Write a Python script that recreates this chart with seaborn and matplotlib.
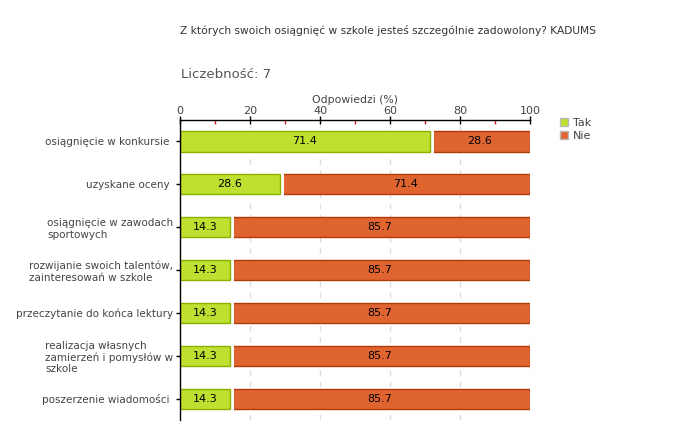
import matplotlib
matplotlib.use("Agg")
import matplotlib.pyplot as plt
import matplotlib.patheffects as pe
from matplotlib.ticker import MultipleLocator
from matplotlib.patches import Patch
import seaborn as sns
import pandas as pd

categories = [
    "osiągnięcie w konkursie ",
    "uzyskane oceny ",
    "osiągnięcie w zawodach\nsportowych",
    "rozwijanie swoich talentów,\nzainteresowań w szkole",
    "przeczytanie do końca lektury",
    "realizacja własnych\nzamierzeń i pomysłów w\nszkole",
    "poszerzenie wiadomości ",
]
tak = [71.4, 28.6, 14.3, 14.3, 14.3, 14.3, 14.3]
nie = [28.6, 71.4, 85.7, 85.7, 85.7, 85.7, 85.7]
series_names = ["Tak", "Nie"]
x_ticks = [0, 20, 40, 60, 80, 100]

title = "Z których swoich osiągnięć w szkole jesteś szczególnie zadowolony? KADUMS"
subtitle = "Liczebność: 7"
x_label = "Odpowiedzi (%)"

df = pd.DataFrame({"cat": categories, "Tak": tak, "Nie": nie})

sns.set_theme(style="white")
plt.rcParams["font.family"] = ["DejaVu Sans"]

green, green_edge = "#bee030", "#8cae00"
orange, orange_edge = "#e06430", "#b03a08"
text_col = "#444444"

fig = plt.figure(figsize=(6.8, 4.4), dpi=100)
ax = fig.add_axes([180 / 680, 1 - 420 / 440, 350 / 680, 300 / 440])

sns.barplot(data=df, y="cat", x="Nie", left=df["Tak"], order=categories, orient="h",
            color=orange, edgecolor=orange_edge, linewidth=1, width=0.47,
            saturation=1, errorbar=None, ax=ax, zorder=1.5)
sns.barplot(data=df, y="cat", x="Tak", order=categories, orient="h",
            color=green, edgecolor=green_edge, linewidth=1, width=0.47,
            saturation=1, errorbar=None, ax=ax, zorder=2)

c_nie, c_tak = ax.containers[0], ax.containers[1]
for p in c_tak:
    p.set_path_effects([pe.Stroke(linewidth=5, foreground="white"), pe.Normal()])

ax.bar_label(c_tak, labels=[f"{v:.1f}" for v in tak], label_type="center",
             fontsize=8, color="black", zorder=5)
ax.bar_label(c_nie, labels=[f"{v:.1f}" for v in nie], label_type="center",
             fontsize=8, color="black", zorder=5)

ax.set_xlim(0, 100)
ax.set_ylim(6.5, -0.5)
ax.xaxis.tick_top()
ax.xaxis.set_label_position("top")
ax.set_xticks(x_ticks)
ax.set_xticklabels([str(t) for t in x_ticks])
ax.xaxis.set_minor_locator(MultipleLocator(10))
ax.set_xlabel(x_label, fontsize=7.8, color=text_col, labelpad=2)
ax.set_ylabel("")

ax.tick_params(axis="x", which="major", direction="inout", length=6, width=1,
               color="black", labelsize=8, labelcolor=text_col, pad=0)
ax.tick_params(axis="x", which="minor", direction="in", length=3, width=1,
               color="#e02020")
ax.tick_params(axis="y", which="major", direction="out", length=3, width=1,
               color="black", labelsize=7.5, labelcolor=text_col, pad=2, left=True)
for lbl in ax.get_yticklabels():
    lbl.set_multialignment("left")

ax.grid(axis="x", which="major", linestyle=(0, (4, 4)), color="#dddddd", linewidth=1)
ax.grid(axis="y", visible=False)
ax.set_axisbelow(True)

for side in ["right", "bottom"]:
    ax.spines[side].set_visible(False)
for side in ["top", "left"]:
    ax.spines[side].set_color("black")
    ax.spines[side].set_linewidth(1)
    ax.spines[side].set_zorder(4)

handles = [Patch(facecolor=green, edgecolor="#bbbbbb"),
           Patch(facecolor=orange, edgecolor="#bbbbbb")]
fig.legend(handles, series_names, loc="upper left", bbox_to_anchor=(554 / 680, 1 - 112 / 440),
           frameon=False, fontsize=8, labelcolor=text_col, handlelength=0.8,
           handleheight=0.8, handletextpad=0.4, labelspacing=0.3, borderpad=0)

fig.text(180 / 680, 1 - 30 / 440, title, fontsize=7.7, color="#333333", va="center", ha="left")
fig.text(181 / 680, 1 - 75 / 440, subtitle, fontsize=9.5, color="#555555", va="center", ha="left")

fig.savefig("out.png", dpi=100, facecolor="white")
